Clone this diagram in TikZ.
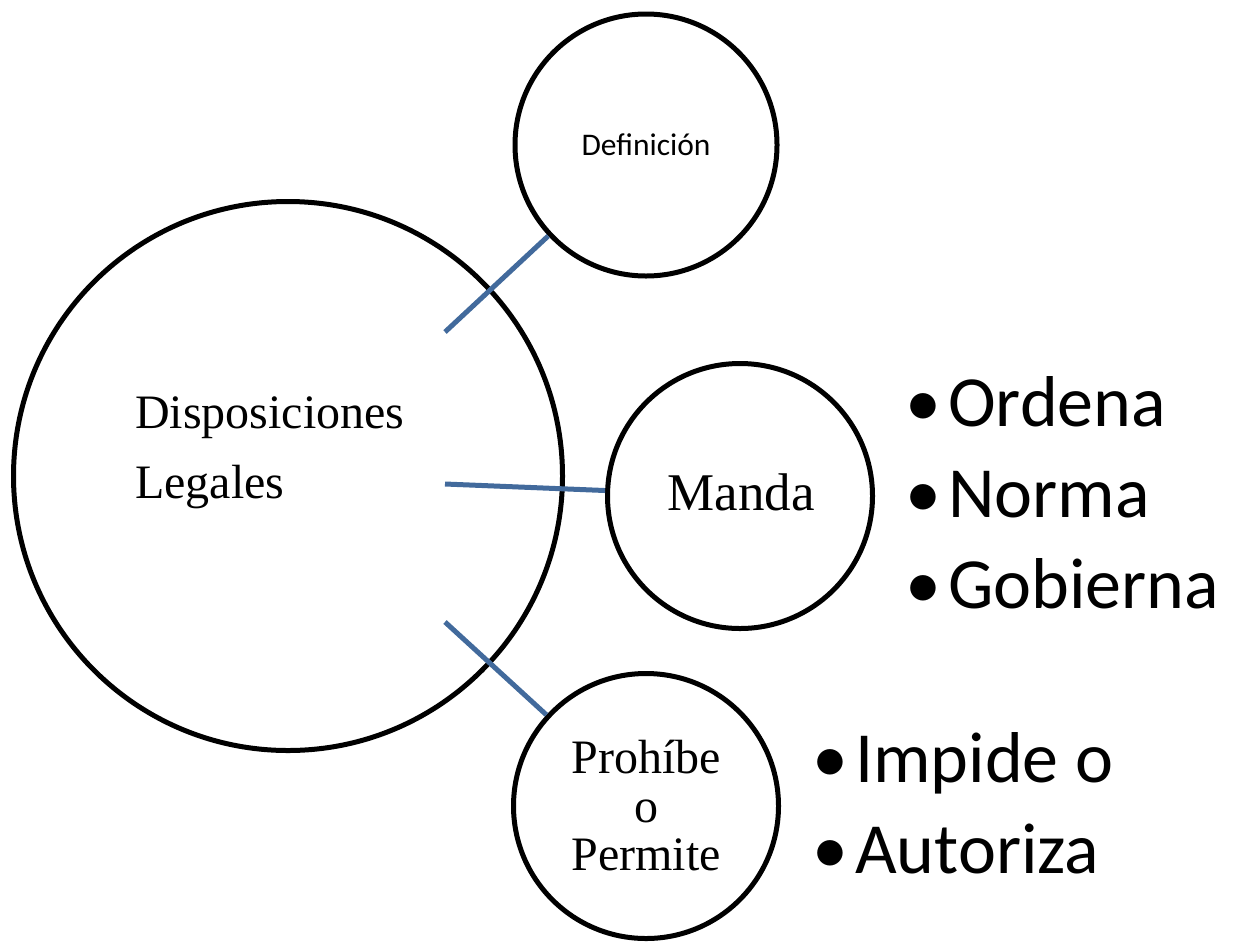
\documentclass[tikz,border=0pt]{standalone}
\usepackage{fontspec}
\setmainfont{Liberation Serif}
\newfontfamily\calfont{Carlito}
\definecolor{linkblue}{RGB}{66,106,156}
\begin{document}
\begin{tikzpicture}[x=1pt,y=-1pt,
  ring/.style={draw=black,line width=5pt,circle,inner sep=0pt},
  link/.style={draw=linkblue,line width=5pt},
  serif/.style={inner sep=0pt,font=\fontsize{48}{70}\selectfont},
  bigbul/.style={inner sep=0pt,anchor=base west,font=\calfont\fontsize{72}{85}\selectfont}]
\useasboundingbox (0,0) rectangle (1238,943);
\node[ring,minimum size=549pt] (big) at (288,476) {};
\node[ring,minimum size=262pt] (def) at (646,145) {};
\node[ring,minimum size=265pt] (manda) at (740,496) {};
\node[ring,minimum size=265pt] (proh) at (646,806) {};
\coordinate (c1) at (445,332);
\coordinate (c2) at (445,484);
\coordinate (c3) at (445,622);
\draw[link] (c1) -- (def);
\draw[link] (c2) -- (manda);
\draw[link] (c3) -- (proh);
% texts
\node[serif,anchor=base west] (t1) at (135,428) {Disposiciones};
\node[serif,anchor=base west] (t2) at (135,498) {Legales};
\node[inner sep=0pt,anchor=base,font=\calfont\fontsize{31.5}{36}\selectfont] (tdef) at (646,155) {Definición};
\node[inner sep=0pt,anchor=base,font=\fontsize{53}{60}\selectfont] (tmanda) at (741,510) {Manda};
\node[inner sep=0pt,anchor=base,font=\fontsize{48}{50}\selectfont] (tp1) at (646,773) {Prohíbe};
\node[inner sep=0pt,anchor=base,font=\fontsize{48}{50}\selectfont] (tp2) at (646,822) {o};
\node[inner sep=0pt,anchor=base,font=\fontsize{48}{50}\selectfont] (tp3) at (646,870) {Permite};
% bullets
\node[bigbul] (b1) at (905,426) {•};
\node[bigbul] (o1) at (948,426) {Ordena};
\node[bigbul] (b2) at (905,517) {•};
\node[bigbul] (o2) at (948,517) {Norma};
\node[bigbul] (b3) at (905,608) {•};
\node[bigbul] (o3) at (948,608) {Gobierna};
\node[bigbul] (b4) at (812,782) {•};
\node[bigbul] (o4) at (855,782) {Impide o};
\node[bigbul] (b5) at (812,873) {•};
\node[bigbul] (o5) at (855,873) {Autoriza};
\end{tikzpicture}
\end{document}
